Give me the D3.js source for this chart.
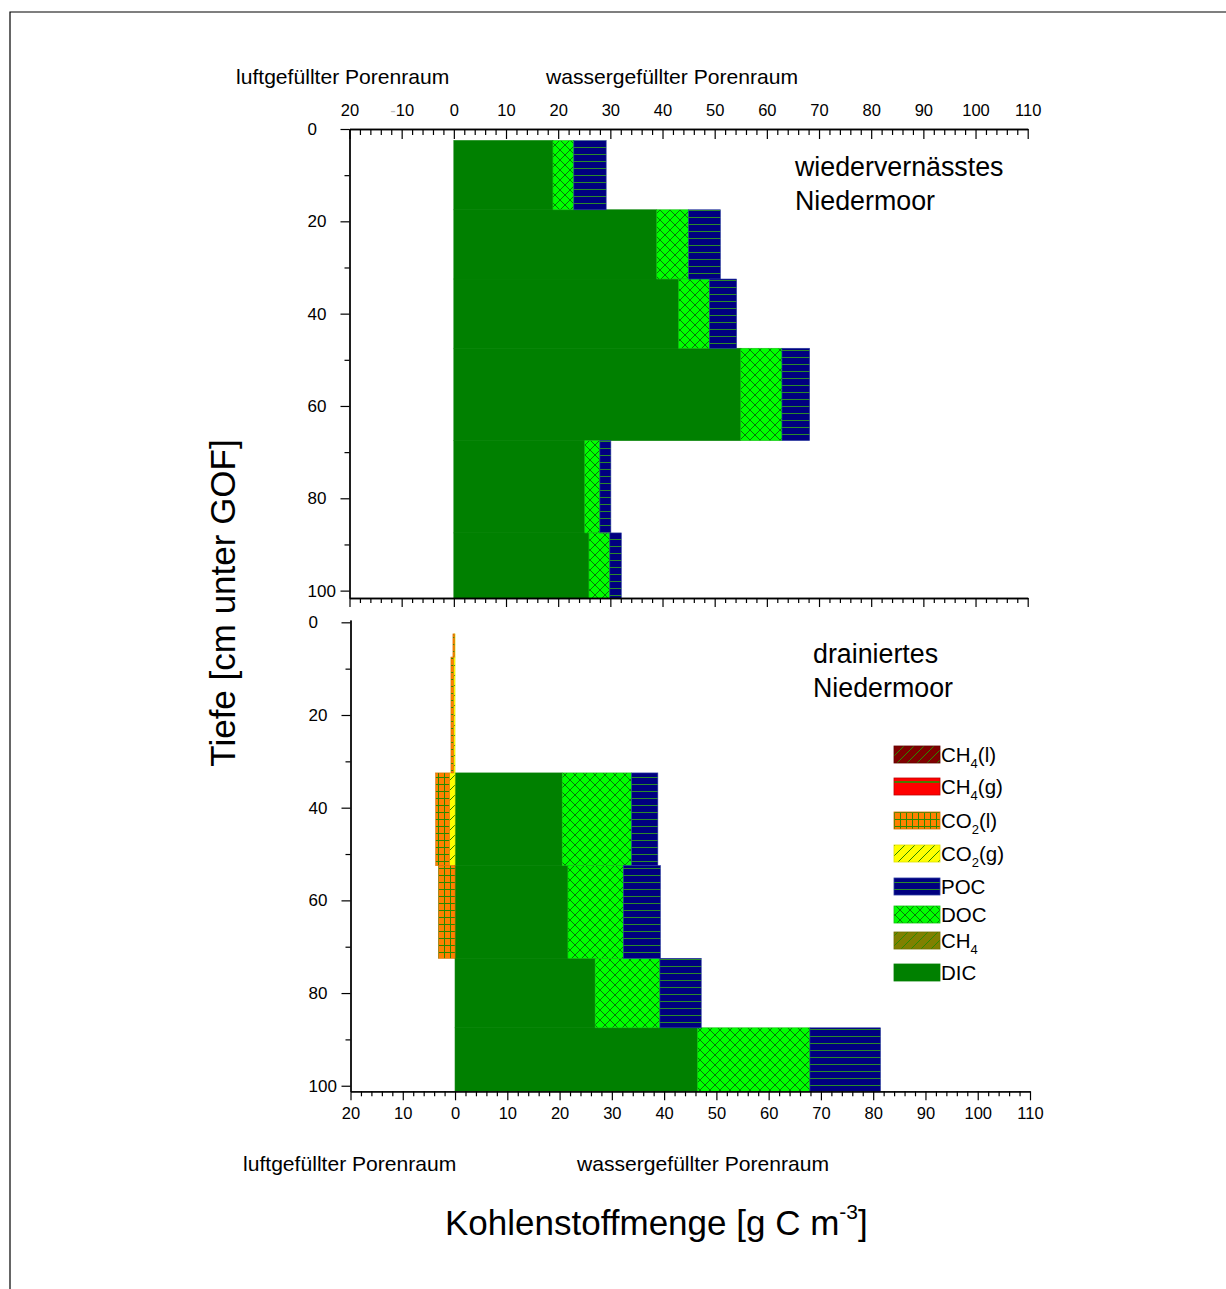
<!DOCTYPE html>
<html><head><meta charset="utf-8">
<script src="https://cdn.jsdelivr.net/npm/d3@7"></script>
<style>body{margin:0;background:#fff}svg{display:block;font-family:"Liberation Sans",Arial,sans-serif}</style>
</head><body>
<svg id="c" width="1226" height="1289"></svg>
<script>
// ---------- data ----------
const xTickValues = [-20,-10,0,10,20,30,40,50,60,70,80,90,100,110];
const topTickLabels = ["20","-10","0","10","20","30","40","50","60","70","80","90","100","110"];
const bottomTickLabels = ["20","10","0","10","20","30","40","50","60","70","80","90","100","110"];
const depthTicks = [0,20,40,60,80,100];
const depthMinorTicks = [10,30,50,70,90];

const seriesKeys = ["DIC","CH4","DOC","POC","CO2g","CO2l","CH4g","CH4l"];
const legendLabels = ["CH4(l)","CH4(g)","CO2(l)","CO2(g)","POC","DOC","CH4","DIC"];
const legendKeys = ["CH4l","CH4g","CO2l","CO2g","POC","DOC","CH4","DIC"];

// rewetted fen (top panel)
const wetLayerTop = [2.5,17.5,32.5,47.5,67.5,87.5];
const wetLayerBottom = [17.5,32.5,47.5,67.5,87.5,102.5];
const wetDIC = [19.0,38.9,43.1,55.0,25.1,25.9];
const wetCH4 = [0,0,0,0,0,0];
const wetDOC = [4.0,6.1,5.9,7.9,2.9,4.0];
const wetPOC = [6.2,6.1,5.2,5.3,2.1,2.2];
const wetCO2g = [0,0,0,0,0,0];
const wetCO2l = [0,0,0,0,0,0];
const wetCH4g = [0,0,0,0,0,0];
const wetCH4l = [0,0,0,0,0,0];

// drained fen (bottom panel)
const drLayerTop = [2.5,7.5,32.5,52.5,72.5,87.5];
const drLayerBottom = [7.5,32.5,52.5,72.5,87.5,102.5];
const drDIC = [0,0,20.5,21.6,26.8,46.4];
const drCH4 = [0,0,0,0,0,0];
const drDOC = [0,0,13.3,10.6,12.4,21.5];
const drPOC = [0,0,5.0,7.1,7.9,13.5];
const drCO2g = [0.1,0.33,1.1,0,0,0];
const drCO2l = [0.3,0.45,2.6,3.2,0,0];
const drCH4g = [0,0,0,0,0,0];
const drCH4l = [0,0,0,0,0,0];

// ---------- drawing ----------
const svg = d3.select("#c");
const defs = svg.append("defs");
const hatchCol = "#1f7a1f";

function pat(id, w, h, fill, paths, sw, col) {
  const p = defs.append("pattern").attr("id", id).attr("patternUnits","userSpaceOnUse")
    .attr("width", w).attr("height", h);
  p.append("rect").attr("width", w).attr("height", h).attr("fill", fill);
  if (paths) p.append("path").attr("d", paths).attr("stroke", col || hatchCol)
    .attr("stroke-width", sw || 1).attr("fill","none");
}
pat("p-DIC", 10, 10, "#008000", null);
pat("p-DOC", 10, 10, "#00ff00", "M0,0L10,10M10,0L0,10", 0.9, "#0a6a0a");
pat("p-POC", 10, 7, "#000080", "M0,0.5H10", 1, "#2a8a2a");
pat("p-CO2l", 6, 7, "#ff8000", "M0.5,0V7M0,0.5H6", 1, "#2a8a00");
pat("p-CO2g", 10, 10, "#ffff00", "M0,10L10,0M-1,1L1,-1M9,11L11,9", 1, "#2a8a00");
pat("p-CH4l", 10, 10, "#800000", "M0,10L10,0M-1,1L1,-1M9,11L11,9", 1, "#2a8a00");
pat("p-CH4g", 16, 17, "#ff0000", "M0,0.5H16M0,16.5H16", 1, "#4a7a00");
pat("p-CH4", 10, 10, "#808000", "M0,10L10,0M-1,1L1,-1M9,11L11,9", 1, "#2a8a00");

const strokeFor = {DIC:"#008000", DOC:"#10c010", POC:"#2a3aa0", CO2l:"#d07000", CO2g:"#e0e000", CH4:"#707000", CH4g:"#c00000", CH4l:"#600000"};

// outer frame
svg.append("path").attr("d","M10,1289V12H1226").attr("fill","none").attr("stroke","#000").attr("stroke-width",1.2);

function drawPanel(cfg) {
  const xs = d3.scaleLinear().domain([-20,110]).range(cfg.xr);
  const ys = d3.scaleLinear().domain(cfg.yd).range(cfg.yr);
  const g = svg.append("g");
  const clipId = "clip" + cfg.id;
  defs.append("clipPath").attr("id", clipId).append("rect")
    .attr("x", xs(-20)).attr("y", ys(cfg.yd[0])).attr("width", xs(110)-xs(-20)).attr("height", ys(cfg.yd[1])-ys(cfg.yd[0]));

  const rows = cfg.layerTop.map((t,i) => {
    const r = {top:t, bottom:cfg.layerBottom[i]};
    seriesKeys.forEach(k => {
      const v = cfg.series[k][i];
      r[k] = ["CO2g","CO2l","CH4g","CH4l"].includes(k) ? -v : v;
    });
    return r;
  });
  const stacked = d3.stack().keys(seriesKeys).offset(d3.stackOffsetDiverging)(rows);
  const bars = g.append("g").attr("clip-path", `url(#${clipId})`);
  stacked.forEach(s => {
    bars.selectAll(null).data(s.filter(d => d[1] !== d[0])).join("rect")
      .attr("x", d => xs(Math.min(d[0], d[1])))
      .attr("width", d => Math.abs(xs(d[1]) - xs(d[0])))
      .attr("y", d => ys(d.data.top))
      .attr("height", d => ys(d.data.bottom) - ys(d.data.top))
      .attr("fill", `url(#p-${s.key})`)
      .attr("stroke", strokeFor[s.key]).attr("stroke-width", 0.6);
  });

  const minorX = d3.range(-20, 110.001, 2).filter(v => v % 10 !== 0);
  const styleAxis = a => { a.selectAll("path.domain").attr("stroke","#000").attr("stroke-width",1.3);
    a.selectAll(".tick line").attr("stroke","#000").attr("stroke-width",1.2);
    a.selectAll("text").attr("fill","#000").attr("font-size",16.5).attr("font-family",'"Liberation Sans",Arial,sans-serif'); };

  // left axis
  const yMinor = g.append("g").attr("transform",`translate(${xs(-20)},0)`)
    .call(d3.axisLeft(ys).tickValues(depthMinorTicks).tickSize(5).tickSizeOuter(0).tickFormat(""));
  styleAxis(yMinor);
  const yAx = g.append("g").attr("transform",`translate(${xs(-20)},0)`)
    .call(d3.axisLeft(ys).tickValues(depthTicks).tickSize(9).tickSizeOuter(0).tickFormat(d => d));
  styleAxis(yAx);
  yAx.selectAll("text").attr("text-anchor","start").attr("x", -42).attr("font-size", 17);

  // bottom axis (ticks outward)
  const yb = ys(cfg.yd[1]);
  const bMinor = g.append("g").attr("transform",`translate(0,${yb})`)
    .call(d3.axisBottom(xs).tickValues(minorX).tickSize(5).tickSizeOuter(0).tickFormat(""));
  styleAxis(bMinor);
  const bAx = g.append("g").attr("transform",`translate(0,${yb})`)
    .call(d3.axisBottom(xs).tickValues(xTickValues).tickSize(9).tickSizeOuter(0).tickPadding(7)
      .tickFormat((d,i) => cfg.bottomLabels ? cfg.bottomLabels[i] : ""));
  styleAxis(bAx);

  if (cfg.topAxis) {
    const yt = ys(cfg.yd[0]);
    const tMinor = g.append("g").attr("transform",`translate(0,${yt})`)
      .call(d3.axisTop(xs).tickValues(minorX).tickSize(-6).tickSizeOuter(0).tickFormat(""));
    styleAxis(tMinor);
    const tAx = g.append("g").attr("transform",`translate(0,${yt})`)
      .call(d3.axisTop(xs).tickValues(xTickValues).tickSize(-10).tickSizeOuter(0).tickPadding(13)
        .tickFormat(""));
    styleAxis(tAx);
    tAx.selectAll(".tick").append("text").attr("y", -13).attr("text-anchor","middle")
      .attr("font-size",16.5).attr("fill","#000")
      .each(function(d,i){
        const lab = cfg.topLabels[i];
        const t = d3.select(this);
        if (lab.startsWith("-")) {
          t.append("tspan").attr("fill","#bbb").text("-");
          t.append("tspan").text(lab.slice(1));
        } else t.text(lab);
      });
  }
  return {xs, ys, g};
}

drawPanel({id:"top", xr:[349.5,1027.7], yd:[0,101.6], yr:[129,598], topAxis:true, topLabels:topTickLabels,
  layerTop:wetLayerTop, layerBottom:wetLayerBottom,
  series:{DIC:wetDIC, CH4:wetCH4, DOC:wetDOC, POC:wetPOC, CO2g:wetCO2g, CO2l:wetCO2l, CH4g:wetCH4g, CH4l:wetCH4l}});

drawPanel({id:"bot", xr:[350.5,1030], yd:[-0.5,101.2], yr:[620,1091.3], topAxis:false, bottomLabels:bottomTickLabels,
  layerTop:drLayerTop, layerBottom:drLayerBottom,
  series:{DIC:drDIC, CH4:drCH4, DOC:drDOC, POC:drPOC, CO2g:drCO2g, CO2l:drCO2l, CH4g:drCH4g, CH4l:drCH4l}});

// texts
function txt(x, y, s, size, anchor) {
  return svg.append("text").attr("x", x).attr("y", y).attr("font-size", size)
    .attr("text-anchor", anchor || "start").attr("fill","#000").text(s);
}
txt(236, 84, "luftgefüllter Porenraum", 21.1);
txt(546, 84, "wassergefüllter Porenraum", 21.1);
txt(243, 1171, "luftgefüllter Porenraum", 21.1);
txt(577, 1171, "wassergefüllter Porenraum", 21.1);
txt(795, 176, "wiedervernässtes", 26.8);
txt(795, 210, "Niedermoor", 26.8);
txt(813, 663, "drainiertes", 26.8);
txt(813, 697, "Niedermoor", 26.8);

const xl = svg.append("text").attr("x", 445).attr("y", 1235).attr("font-size", 35).attr("fill","#000");
xl.append("tspan").text("Kohlenstoffmenge [g C m");
xl.append("tspan").attr("font-size", 21).attr("dy", -16).text("-3");
xl.append("tspan").attr("dy", 16).text("]");

svg.append("text").attr("transform","translate(235,603) rotate(-90)").attr("text-anchor","middle")
  .attr("font-size", 35).attr("fill","#000").text("Tiefe [cm unter GOF]");

// legend
const legRowTop = [746,778,812,845,878,906,932,964];
const leg = svg.append("g");
legendKeys.forEach((k,i) => {
  const y0 = legRowTop[i];
  leg.append("rect").attr("x", 894).attr("y", y0).attr("width", 46).attr("height", 17)
    .attr("fill", `url(#p-${k})`).attr("stroke", strokeFor[k]).attr("stroke-width", 0.8);
  const t = leg.append("text").attr("x", 941).attr("y", y0 + 16).attr("font-size", 20.5).attr("fill","#000");
  const parts = legendLabels[i].split(/(\d)/).filter(p => p !== "");
  let sub = false;
  parts.forEach(p => {
    if (/^\d$/.test(p)) { t.append("tspan").attr("font-size", 13).attr("dy", 6).text(p); sub = true; }
    else { const ts = t.append("tspan").text(p); if (sub) { ts.attr("dy", -6); sub = false; } }
  });
});
</script>
</body></html>
